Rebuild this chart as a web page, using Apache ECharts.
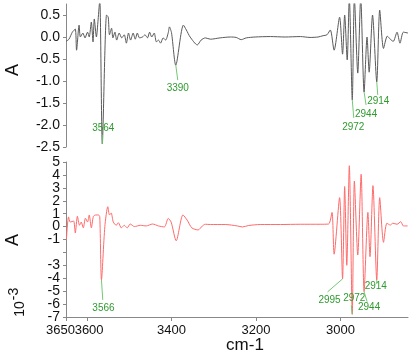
<!DOCTYPE html>
<html>
<head>
<meta charset="utf-8">
<script src="https://cdn.jsdelivr.net/npm/echarts@6/dist/echarts.min.js"></script>
<style>html,body{margin:0;padding:0;background:#fff;}#c{width:419px;height:354px;}</style>
</head>
<body>
<div id="c"></div>
<script>
// ---- data ----
const topWn = [3650,3643,3635,3628,3625,3619,3616,3610,3605,3599,3595,3590,3586,3583,3578,3574,3570,3564,3554,3550,3547,3542,3539,3534,3530,3524,3518,3512,3507,3502,3497,3491,3486,3481,3476,3469,3463,3457,3452,3447,3441,3436,3431,3426,3420,3414,3408,3405,3400,3390,3372,3365,3356,3339,3330,3320,3308,3285,3261,3247,3235,3223,3202,3166,3131,3095,3072,3053,3041,3032,3024,3015,3002,2995,2990,2984,2979,2972,2967,2959,2952,2944,2937,2932,2924,2914,2907,2898,2889,2882,2875,2866,2859,2851,2840];
const topAbs = [-0.10,-0.05,0.11,0.18,-0.30,0.27,0.00,0.09,-0.02,0.11,0.00,0.34,-0.11,0.41,0.00,0.39,0.85,-2.43,0.50,0.45,0.05,0.20,-0.02,0.11,-0.07,0.09,-0.02,0.05,-0.14,0.09,-0.07,0.09,-0.05,0.09,-0.02,0.00,0.05,-0.02,0.11,0.00,0.09,-0.11,-0.07,-0.14,-0.02,-0.07,0.09,0.23,0.09,-0.64,0.27,0.16,0.00,-0.18,-0.07,-0.02,-0.05,-0.02,0.00,-0.01,-0.06,-0.02,0.00,0.01,0.00,0.01,-0.01,0.00,0.03,0.05,0.16,-0.30,0.45,-0.39,0.50,-0.52,0.90,-1.43,0.90,-0.82,0.90,-1.25,0.00,-0.80,0.50,-1.02,0.61,-0.26,0.02,-0.05,-0.10,0.11,-0.14,0.11,0.09];

const botWn = [3649,3644,3640,3632,3628,3623,3618,3614,3609,3604,3599,3595,3590,3585,3579,3573,3570,3566,3558,3551,3547,3543,3538,3531,3526,3519,3512,3505,3498,3488,3474,3460,3445,3431,3417,3408,3401,3389,3373,3363,3352,3337,3327,3320,3308,3273,3244,3232,3218,3190,3142,3095,3048,3028,3020,3015,3002,2995,2990,2985,2979,2972,2967,2959,2951,2944,2935,2930,2923,2914,2907,2898,2890,2882,2876,2866,2857,2851,2841];
const botAbs = [-1.0,0.75,0.35,0.43,-0.5,0.8,0.1,0.35,-0.1,0.65,0.35,0.9,-0.1,0.8,0.9,0.9,0.75,-4.13,0.0,1.54,0.9,1.05,0.35,0.1,0.3,-0.1,0.1,-0.1,0.2,0.0,0.1,0.05,0.2,0.05,-0.03,0.63,0.35,-1.1,0.9,0.5,-0.1,-0.26,0.05,0.18,0.16,0.16,0.05,-0.03,0.08,0.16,0.16,0.18,0.18,0.2,1.1,-2.14,2.24,-4.05,3.1,-3.0,4.71,-6.79,3.53,-2.2,4.05,-5.04,1.1,-2.33,3.17,-4.13,2.24,-1.22,0.26,0.12,0.26,0.18,0.38,0.05,0.05];

const topPeakWn = [3564, 3390, 2972, 2944, 2914];
const topPeakAbs = [-2.43, -0.64, -1.43, -1.25, -1.02];
const botPeakWn = [3566, 2995, 2972, 2944, 2914];
const botPeakAbs = [-4.13, -4.05, -6.79, -5.04, -4.13];

const xTicks = [3650, 3600, 3400, 3200, 3000];
const xLabelsMain = [3600, 3400, 3200, 3000];
const xLabelsEdge = [3650];
const topYTicks = [-2.5, -2.0, -1.5, -1.0, -0.5, 0.0, 0.5];
const botYTicks = [-7, -6, -5, -4, -3, -2, -1, 0, 1, 2, 3, 4, 5];
const botYLabelsA = [-7, -5, -4, -3, -1, 0, 1, 2, 3, 5];   // -2 is not labelled in the reference
const botYLabelsB = [-6, 4];

// ---- layout / style ----
const FONT = "'Liberation Sans', Arial, sans-serif";
// leader line end (dx,dy) and label centre (dx,dy) relative to the peak
const topOffsets = [[0,-9,1,-16],[2,15,2,23],[1.5,18,1,27],[2,13,2,22],[1,13,1.5,19]];
const botOffsets = [[1.3,20,2,28],[-15,13,-13,21],[-1,-9,2,-16],[3,10,5,16],[0,4,-1,6]];

function pairs(xs, ys) { return xs.map((x, i) => [x, ys[i]]); }

function anno(wns, vals, offs, idx) {
  return {
    type: 'custom', xAxisIndex: idx, yAxisIndex: idx, z: 10, clip: false,
    data: wns.map((w, i) => [w, vals[i], i]),
    renderItem: function (params, api) {
      const p = api.coord([api.value(0), api.value(1)]);
      const o = offs[api.value(2)];
      return {
        type: 'group',
        children: [
          { type: 'line', shape: { x1: p[0], y1: p[1], x2: p[0] + o[0], y2: p[1] + o[1] },
            style: { stroke: '#74c874', lineWidth: 1 } },
          { type: 'text', x: p[0] + o[2], y: p[1] + o[3],
            style: { text: String(api.value(0)), fill: '#2f9a2f', font: '10px ' + FONT,
                     align: 'center', verticalAlign: 'middle' } }
        ]
      };
    }
  };
}

const axisGray = '#888';
const yLabelStyle = { color: '#111', fontSize: 14, fontFamily: FONT, margin: 6, showMinLabel: true, showMaxLabel: true };
const chart = echarts.init(document.getElementById('c'));
chart.setOption({
  animation: false,
  grid: [
    { left: 66, right: 11, top: 4, height: 143 },
    { left: 66, right: 11, top: 162, height: 155 }
  ],
  xAxis: [
    { gridIndex: 0, type: 'value', min: 2840, max: 3650, inverse: true, show: false },
    { gridIndex: 1, type: 'value', min: 2840, max: 3650, inverse: true, position: 'bottom',
      splitLine: { show: false },
      axisLine: { onZero: false, lineStyle: { color: axisGray } },
      axisTick: { customValues: xTicks, length: 4, lineStyle: { color: axisGray } },
      axisLabel: { customValues: xLabelsMain, showMinLabel: true, showMaxLabel: true,
        color: '#111', fontSize: 13, fontFamily: FONT, margin: 7,
        formatter: v => v === 3600 ? '{r|3600}' : String(v),
        rich: { r: { padding: [0, 0, 0, 4], fontSize: 13, fontFamily: FONT, color: '#111' } } }
    },
    { gridIndex: 1, type: 'value', min: 2840, max: 3650, inverse: true, position: 'bottom',
      splitLine: { show: false },
      axisLine: { show: false, onZero: false },
      axisTick: { show: false },
      axisLabel: { customValues: xLabelsEdge, showMinLabel: true, showMaxLabel: true,
        color: '#111', fontSize: 13, fontFamily: FONT, margin: 7,
        formatter: v => '{l|' + v + '}',
        rich: { l: { padding: [0, 11, 0, 0], fontSize: 13, fontFamily: FONT, color: '#111' } } }
    }
  ],
  yAxis: [
    { gridIndex: 0, type: 'value', min: -2.5, max: 0.75,
      splitLine: { show: false },
      axisLine: { show: true, onZero: false, lineStyle: { color: axisGray } },
      axisTick: { show: true, customValues: topYTicks, length: 3, lineStyle: { color: axisGray } },
      axisLabel: Object.assign({ customValues: topYTicks, formatter: v => v.toFixed(1) }, yLabelStyle)
    },
    { gridIndex: 1, type: 'value', min: -7, max: 5, position: 'left',
      splitLine: { show: false },
      axisLine: { show: true, onZero: false, lineStyle: { color: axisGray } },
      axisTick: { show: true, customValues: botYTicks, length: 3, lineStyle: { color: axisGray } },
      axisLabel: Object.assign({ customValues: botYLabelsA, formatter: v => String(v) }, yLabelStyle)
    },
    { gridIndex: 1, type: 'value', min: -7, max: 5, position: 'left',
      splitLine: { show: false },
      axisLine: { show: false, onZero: false },
      axisTick: { show: false },
      axisLabel: Object.assign({ customValues: botYLabelsB, formatter: v => String(v) }, yLabelStyle)
    }
  ],
  series: [
    { type: 'line', xAxisIndex: 0, yAxisIndex: 0, data: pairs(topWn, topAbs), showSymbol: false,
      smooth: 0.25, lineStyle: { color: '#5a5a5a', width: 1 }, clip: true },
    { type: 'line', xAxisIndex: 1, yAxisIndex: 1, data: pairs(botWn, botAbs), showSymbol: false,
      smooth: 0.25, lineStyle: { color: '#ff6a6a', width: 1 }, clip: true },
    anno(topPeakWn, topPeakAbs, topOffsets, 0),
    anno(botPeakWn, botPeakAbs, botOffsets, 1)
  ],
  graphic: [
    { type: 'text', x: 13, y: 70, rotation: Math.PI / 2,
      style: { text: 'A', font: '18px ' + FONT, fill: '#111', align: 'center', verticalAlign: 'middle' } },
    { type: 'text', x: 13, y: 240, rotation: Math.PI / 2,
      style: { text: 'A', font: '18px ' + FONT, fill: '#111', align: 'center', verticalAlign: 'middle' } },
    { type: 'text', x: 20, y: 309, rotation: Math.PI / 2,
      style: { text: '10', font: '14px ' + FONT, fill: '#111', align: 'center', verticalAlign: 'middle' } },
    { type: 'text', x: 14, y: 294, rotation: Math.PI / 2,
      style: { text: '-3', font: '14px ' + FONT, fill: '#111', align: 'center', verticalAlign: 'middle' } },
    { type: 'text', x: 245, y: 345,
      style: { text: 'cm-1', font: '17px ' + FONT, fill: '#111', align: 'center', verticalAlign: 'middle' } }
  ]
});
</script>
</body>
</html>
